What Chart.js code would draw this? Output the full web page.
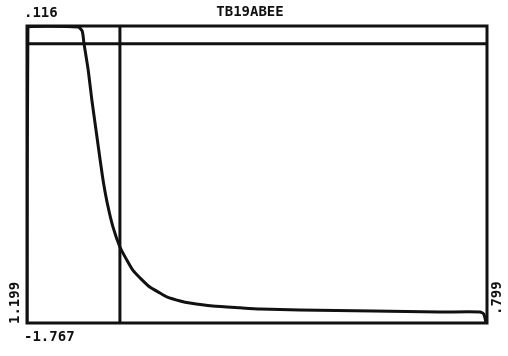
<!DOCTYPE html>
<html>
<head>
<meta charset="utf-8">
<script src="https://cdn.jsdelivr.net/npm/chart.js@4/dist/chart.umd.min.js"></script>
<style>
  html, body { margin: 0; padding: 0; background: #fff; }
  #wrap { width: 508px; height: 356px; }
</style>
</head>
<body>
<div id="wrap"><canvas id="c"></canvas></div>
<script>
// Trace: time (percent of run) vs. response (percent of full scale)
const traceX = [0, 0.2, 11.1, 12.0, 12.4, 13.3, 14.1, 15.0, 15.9, 16.6, 17.5, 18.7, 20.2, 21.7, 23.0, 25.0, 26.7, 28.9, 30.4, 33.3, 35.4, 40.4, 46.3, 50.7, 59.3, 75.2, 89.8, 98.5, 99.3, 99.8];
const traceY = [0, 99.7, 99.7, 98.3, 94.0, 85.2, 75.1, 65.0, 54.9, 47.5, 40.0, 32.3, 25.6, 21.2, 17.8, 14.5, 12.1, 10.1, 8.8, 7.4, 6.7, 5.7, 5.1, 4.7, 4.4, 4.0, 3.7, 3.7, 3.0, 0];

// Cursor lines
const cursorX = 20.2;
const cursorY = 94.0;

// Labels printed around the frame
const titleText = "TB19ABEE";
const topLeftLabel = ".116";
const bottomLeftLabel = "-1.767";
const leftSideLabel = "1.199";
const rightSideLabel = ".799";

const ink = "#111";

const framePlugin = {
  id: "frameAndLabels",
  afterDraw(chart) {
    const { ctx, chartArea: a } = chart;
    ctx.save();
    ctx.strokeStyle = ink;
    ctx.lineWidth = 3;
    ctx.strokeRect(a.left, a.top, a.right - a.left, a.bottom - a.top);

    ctx.fillStyle = ink;
    ctx.font = "bold 14px 'DejaVu Sans Mono', monospace";
    ctx.textBaseline = "alphabetic";
    ctx.textAlign = "left";
    ctx.fillText(topLeftLabel, a.left - 3, a.top - 9);
    ctx.fillText(bottomLeftLabel, a.left - 3, a.bottom + 18);
    ctx.textAlign = "center";
    ctx.fillText(titleText, 250, a.top - 10);

    // rotated side labels
    ctx.save();
    ctx.translate(a.left - 12, a.bottom + 1);
    ctx.rotate(-Math.PI / 2);
    ctx.textAlign = "left";
    ctx.textBaseline = "middle";
    ctx.fillText(leftSideLabel, 0, 0);
    ctx.restore();

    ctx.save();
    ctx.translate(a.right + 10, a.bottom - 8);
    ctx.rotate(-Math.PI / 2);
    ctx.textAlign = "left";
    ctx.textBaseline = "middle";
    ctx.fillText(rightSideLabel, 0, 0);
    ctx.restore();
    ctx.restore();
  }
};

const tracePoints = traceX.map((x, i) => ({ x, y: traceY[i] }));

new Chart(document.getElementById("c"), {
  type: "scatter",
  data: {
    datasets: [
      {
        data: tracePoints,
        showLine: true,
        borderColor: ink,
        borderWidth: 3,
        pointRadius: 0,
        tension: 0.2,
        fill: false
      },
      {
        data: [{ x: 0, y: cursorY }, { x: 100, y: cursorY }],
        showLine: true,
        borderColor: ink,
        borderWidth: 3,
        pointRadius: 0
      },
      {
        data: [{ x: cursorX, y: 0 }, { x: cursorX, y: 100 }],
        showLine: true,
        borderColor: ink,
        borderWidth: 3,
        pointRadius: 0
      }
    ]
  },
  options: {
    responsive: true,
    maintainAspectRatio: false,
    animation: false,
    layout: { padding: { left: 27, top: 26, right: 21, bottom: 33 } },
    plugins: { legend: { display: false }, tooltip: { enabled: false } },
    scales: {
      x: { type: "linear", min: 0, max: 100, display: false },
      y: { type: "linear", min: 0, max: 100, display: false }
    }
  },
  plugins: [framePlugin]
});
</script>
</body>
</html>
